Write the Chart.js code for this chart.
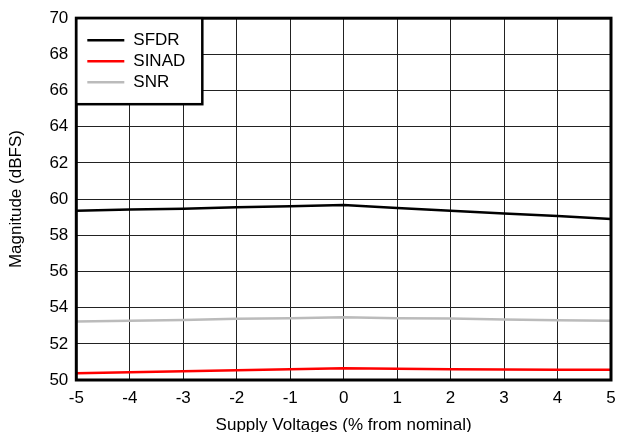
<!DOCTYPE html>
<html>
<head>
<meta charset="utf-8">
<script src="https://cdn.jsdelivr.net/npm/chart.js@4"></script>
<style>
  html, body { margin: 0; padding: 0; background: #fff; }
  #wrap { width: 621px; height: 432px; }
</style>
</head>
<body>
<div id="wrap"><canvas id="myChart" width="621" height="432"></canvas></div>
<script>
// valores
const voltajes = [-5, -4, -3, -2, -1, 0, 1, 2, 3, 4, 5]
const sfdr  = [59.36, 59.42, 59.47, 59.55, 59.6, 59.68, 59.51, 59.36, 59.21, 59.06, 58.9]
const sinad = [50.38, 50.43, 50.49, 50.54, 50.6, 50.65, 50.62, 50.6, 50.58, 50.57, 50.56]
const snr   = [53.24, 53.27, 53.32, 53.38, 53.42, 53.47, 53.42, 53.4, 53.35, 53.3, 53.28]

const nombres = ['SFDR', 'SINAD', 'SNR']
const colores = ['#000000', '#ff0000', '#bbbbbb']

const FUENTE = '"Liberation Sans", Arial, sans-serif'

const aPuntos = (ys) => voltajes.map((x, i) => ({ x: x, y: ys[i] }))

// marco grueso alrededor del area + leyenda con caja
const marcoYLeyenda = {
    id: 'marcoYLeyenda',
    afterDatasetsDraw(chart) {
        const { ctx, chartArea: a } = chart
        ctx.save()
        ctx.strokeStyle = '#000'
        ctx.lineWidth = 3
        ctx.strokeRect(a.left, a.top, a.right - a.left, a.bottom - a.top)

        // leyenda
        const w = 126, h = 86
        ctx.fillStyle = '#fff'
        ctx.fillRect(a.left, a.top, w, h)
        ctx.lineWidth = 2.5
        ctx.strokeRect(a.left, a.top, w, h)
        ctx.font = '17px ' + FUENTE
        ctx.textBaseline = 'middle'
        chart.data.datasets.forEach((ds, i) => {
            const y = a.top + 22 + i * 21
            ctx.strokeStyle = ds.borderColor
            ctx.lineWidth = 2.5
            ctx.beginPath()
            ctx.moveTo(a.left + 11, y)
            ctx.lineTo(a.left + 48, y)
            ctx.stroke()
            ctx.fillStyle = '#000'
            ctx.fillText(ds.label, a.left + 57, y)
        })
        ctx.restore()
    }
}

const ctx = document.getElementById('myChart')

new Chart(ctx, {
    type: 'line',
    data: {
        datasets: nombres.map((n, i) => ({
            label: n,
            data: aPuntos([sfdr, sinad, snr][i]),
            borderColor: colores[i],
            backgroundColor: colores[i],
            borderWidth: 2.5,
            pointRadius: 0,
            tension: 0
        }))
    },
    options: {
        responsive: false,
        animation: false,
        layout: { padding: { top: 9, right: 10, left: 6, bottom: -2 } },
        plugins: {
            legend: { display: false },
            tooltip: { enabled: false }
        },
        scales: {
            x: {
                type: 'linear',
                min: -5,
                max: 5,
                ticks: { stepSize: 1, color: '#000', font: { family: FUENTE, size: 17, lineHeight: 1 }, padding: 0 },
                grid: { color: '#222', lineWidth: 1, drawTicks: true, tickLength: 10, tickColor: 'rgba(0,0,0,0)' },
                border: { display: false },
                title: { display: true, text: 'Supply Voltages (% from nominal)', color: '#000', font: { family: FUENTE, size: 17, lineHeight: 1 }, padding: { top: 10, bottom: 0 } }
            },
            y: {
                min: 50,
                max: 70,
                ticks: { stepSize: 2, color: '#000', font: { family: FUENTE, size: 17 }, padding: 8 },
                grid: { color: '#222', lineWidth: 1, drawTicks: false },
                border: { display: false },
                title: { display: true, text: 'Magnitude (dBFS)', color: '#000', font: { family: FUENTE, size: 17 }, padding: { top: 0, bottom: 15 } }
            }
        }
    },
    plugins: [marcoYLeyenda]
})
</script>
</body>
</html>
